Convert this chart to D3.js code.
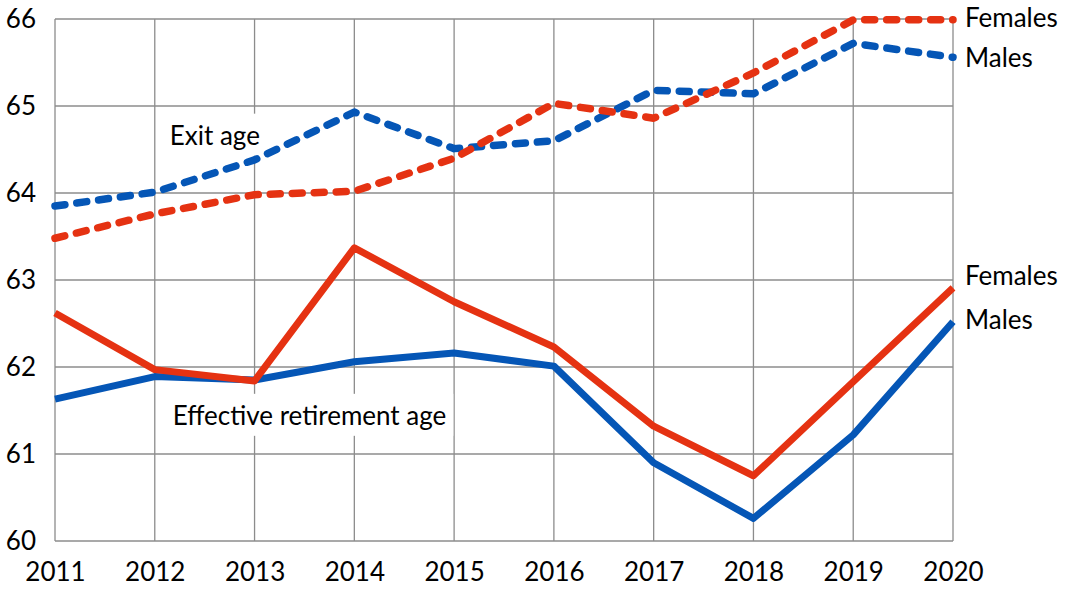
<!DOCTYPE html>
<html>
<head>
<meta charset="utf-8">
<script src="https://cdn.jsdelivr.net/npm/d3@7"></script>
<style>
  body { margin: 0; background: #fff; }
  svg text { font-family: Lato, "Open Sans", sans-serif; fill: #000; }
</style>
</head>
<body>
<div id="chart-container"></div>
<script>
// Data
const years = [2011, 2012, 2013, 2014, 2015, 2016, 2017, 2018, 2019, 2020];
const yTicks = [60, 61, 62, 63, 64, 65, 66];
const exitMales = [63.85, 64.01, 64.38, 64.93, 64.51, 64.60, 65.18, 65.14, 65.72, 65.56];
const exitFemales = [63.48, 63.76, 63.98, 64.02, 64.40, 65.03, 64.86, 65.38, 65.99, 65.99];
const effFemales = [62.62, 61.97, 61.84, 63.37, 62.75, 62.23, 61.32, 60.75, 61.83, 62.91];
const effMales = [61.63, 61.89, 61.85, 62.06, 62.16, 62.01, 60.90, 60.26, 61.22, 62.52];

const red = "#e53212";
const blue = "#0556b6";
const fontSize = "26px";

const margin = { top: 19, right: 112, bottom: 48, left: 55 };
const W = 1065, H = 589;
const width = W - margin.left - margin.right;
const height = H - margin.top - margin.bottom;

const x = d3.scaleLinear().domain([2011, 2020]).range([0, width]);
const y = d3.scaleLinear().domain([60, 66]).range([height, 0]);

const svg = d3.select("#chart-container")
  .append("svg")
  .attr("width", W)
  .attr("height", H)
  .append("g")
  .attr("transform", `translate(${margin.left},${margin.top})`);

// Grid
svg.append("g")
  .selectAll("line")
  .data(years)
  .join("line")
  .attr("x1", d => x(d)).attr("x2", d => x(d))
  .attr("y1", 0).attr("y2", height)
  .attr("stroke", "#8c8c8c").attr("stroke-width", 1.3);

svg.append("g")
  .selectAll("line")
  .data(yTicks)
  .join("line")
  .attr("x1", 0).attr("x2", width)
  .attr("y1", d => y(d)).attr("y2", d => y(d))
  .attr("stroke", "#8c8c8c").attr("stroke-width", 1.3);

// Axes (labels only)
const xAxis = svg.append("g")
  .attr("transform", `translate(0,${height})`)
  .call(d3.axisBottom(x).tickValues(years).tickFormat(d3.format("d")).tickSize(0).tickPadding(22));
xAxis.select(".domain").remove();
xAxis.selectAll("text").style("font-size", fontSize).attr("fill", "#000");

const yAxis = svg.append("g")
  .call(d3.axisLeft(y).tickValues(yTicks).tickFormat(d3.format("d")).tickSize(0).tickPadding(19));
yAxis.select(".domain").remove();
yAxis.selectAll("text").style("font-size", fontSize).attr("fill", "#000");

// Label boxes with white background
function boxLabel(text, xv, yv) {
  const g = svg.append("g");
  const t = g.append("text")
    .attr("x", x(xv)).attr("y", y(yv))
    .attr("dy", "0.35em")
    .style("font-size", fontSize)
    .text(text);
  const b = t.node().getBBox();
  g.insert("rect", "text")
    .attr("x", b.x - 7).attr("y", b.y - 5)
    .attr("width", b.width + 14).attr("height", b.height + 10)
    .attr("fill", "#fff");
}
boxLabel("Exit age", 2012.15, 64.66);
boxLabel("Effective retirement age", 2012.18, 61.44);

// Lines
const line = d3.line()
  .x((d, i) => x(years[i]))
  .y(d => y(d));

function drawLine(data, color, dashed) {
  const p = svg.append("path")
    .datum(data)
    .attr("fill", "none")
    .attr("stroke", color)
    .attr("stroke-width", dashed ? 7.5 : 7)
    .attr("stroke-linejoin", "round")
    .attr("d", line);
  if (dashed) {
    p.attr("stroke-dasharray", "10,12").attr("stroke-linecap", "round");
  }
}
drawLine(effMales, blue, false);
drawLine(effFemales, red, false);
drawLine(exitMales, blue, true);
drawLine(exitFemales, red, true);

// End labels
const endLabels = [
  { text: "Females", v: exitFemales[9], dy: -2 },
  { text: "Males", v: exitMales[9], dy: 1 },
  { text: "Females", v: effFemales[9], dy: -12 },
  { text: "Males", v: effMales[9], dy: -2 }
];
svg.append("g")
  .selectAll("text")
  .data(endLabels)
  .join("text")
  .attr("x", width + 12)
  .attr("y", d => y(d.v) + d.dy)
  .attr("dy", "0.35em")
  .style("font-size", fontSize)
  .text(d => d.text);
</script>
</body>
</html>
